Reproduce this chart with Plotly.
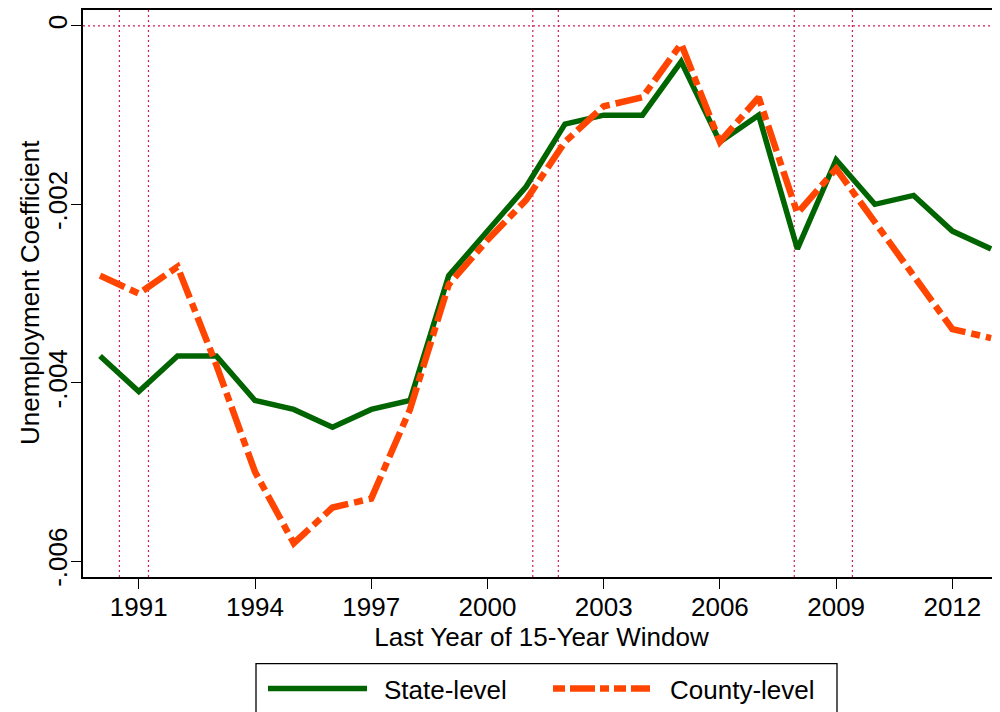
import plotly.graph_objects as go

years = list(range(1990, 2014))
state_level = [-0.0037, -0.0041, -0.0037, -0.0037, -0.0042, -0.0043, -0.0045, -0.0043,
               -0.0042, -0.0028, -0.0023, -0.0018, -0.0011, -0.0010, -0.0010, -0.0004,
               -0.0013, -0.0010, -0.0025, -0.0015, -0.0020, -0.0019, -0.0023, -0.0025]
county_level = [-0.0028, -0.0030, -0.0027, -0.0038, -0.0050, -0.0058, -0.0054, -0.0053,
                -0.0043, -0.0029, -0.0024, -0.00195, -0.0013, -0.0009, -0.0008, -0.0002,
                -0.0013, -0.0008, -0.0021, -0.0016, -0.0022, -0.0028, -0.0034, -0.0035]
recession_lines = [1990.5, 1991.25, 2001.17, 2001.83, 2007.92, 2009.42]
x_tickvals = [1991, 1994, 1997, 2000, 2003, 2006, 2009, 2012]
y_tickvals = [0, -0.002, -0.004, -0.006]
y_ticktext = ["0", "-.002", "-.004", "-.006"]
series_names = ["State-level", "County-level"]

GREEN = "#006400"
ORANGE = "#FF4500"
DOT = "#D81B60"
FONT = "Liberation Sans, Arial, Helvetica, sans-serif"

# page offset (browser body margin)
OFF = 8
W, H = 1000, 712
ML, MR, MT, MB = 75, 8, 0, 143

fig = go.Figure()
fig.add_trace(go.Scatter(x=years, y=state_level, mode="lines", name=series_names[0],
                         line=dict(color=GREEN, width=5.5), showlegend=False))
fig.add_trace(go.Scatter(x=years, y=county_level, mode="lines", name=series_names[1],
                         line=dict(color=ORANGE, width=6.5, dash="27px,6px,9px,6px"),
                         showlegend=False))

shapes = []
for xv in recession_lines:
    shapes.append(dict(type="line", xref="x", yref="paper", x0=xv, x1=xv, y0=0, y1=1,
                       line=dict(color=DOT, width=1.2, dash="2px,3px"), layer="below"))
shapes.append(dict(type="line", xref="paper", yref="y", x0=0, x1=1, y0=0, y1=0,
                   line=dict(color=DOT, width=1.2, dash="2px,3px"), layer="below"))

# helpers: screen px -> paper coords
pw = W - ML - MR
ph = H - MT - MB
def px(xs):
    return (xs - OFF - ML) / pw
def py(ys):
    return (H - MB - (ys - OFF)) / ph

shapes.append(dict(type="rect", xref="paper", yref="paper", x0=px(256), x1=px(837),
                   y0=py(730), y1=py(664), line=dict(color="black", width=1.3),
                   fillcolor="white"))
shapes.append(dict(type="line", xref="paper", yref="paper", x0=px(268), x1=px(367),
                   y0=py(689), y1=py(689), line=dict(color=GREEN, width=5.5)))
shapes.append(dict(type="line", xref="paper", yref="paper", x0=px(553), x1=px(650),
                   y0=py(689), y1=py(689), line=dict(color=ORANGE, width=6.5,
                                                     dash="12px,5px,25px,5px,9px,5px")))
annotations = [
    dict(xref="paper", yref="paper", x=px(382), y=py(690), text=series_names[0],
         showarrow=False, xanchor="left", yanchor="middle",
         font=dict(family=FONT, size=26, color="black")),
    dict(xref="paper", yref="paper", x=px(668), y=py(690), text=series_names[1],
         showarrow=False, xanchor="left", yanchor="middle",
         font=dict(family=FONT, size=26, color="black")),
    dict(xref="paper", yref="paper", x=px(30), y=py(292), text="Unemployment Coefficient",
         textangle=-90, showarrow=False, xanchor="center", yanchor="middle",
         font=dict(family=FONT, size=26, color="black")),
]

fig.update_layout(
    width=W, height=H,
    margin=dict(l=ML, r=MR, t=MT, b=MB),
    paper_bgcolor="white", plot_bgcolor="white",
    font=dict(family=FONT, size=26, color="black"),
    shapes=shapes, annotations=annotations,
    xaxis=dict(range=[1989.56, 2013.23], tickvals=x_tickvals, ticks="outside",
               ticklen=10, tickwidth=1.3, tickcolor="black", showline=True,
               linecolor="black", linewidth=1.5, mirror=True, showgrid=False,
               zeroline=False, tickfont=dict(size=26), ticklabelstandoff=-4,
               title=dict(text="Last Year of 15-Year Window", font=dict(size=26),
                          standoff=2)),
    yaxis=dict(range=[-0.006179, 0.000179], tickvals=y_tickvals, ticktext=y_ticktext,
               tickangle=-90, ticks="outside", ticklen=10, tickwidth=1.3,
               tickcolor="black", showline=True, linecolor="black", linewidth=1.5,
               mirror=False, showgrid=False, zeroline=False, tickfont=dict(size=26),
               ticklabelstandoff=-6),
)

fig.write_html("out.html")
